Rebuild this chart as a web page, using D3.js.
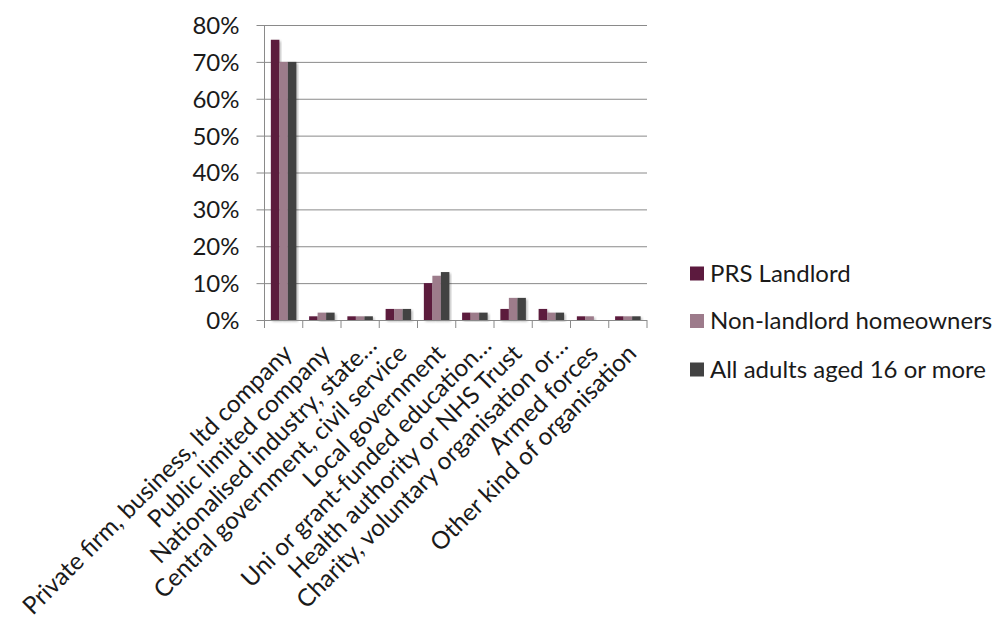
<!DOCTYPE html>
<html>
<head>
<meta charset="utf-8">
<script src="https://cdn.jsdelivr.net/npm/d3@7"></script>
<style>
  html, body { margin: 0; padding: 0; background: #fff; }
  svg { display: block; }
  text { font-family: Lato, "Open Sans", sans-serif; fill: #1a1a1a; }
</style>
</head>
<body>
<svg id="chart" width="999" height="619"></svg>
<script>
// ---- data ----
const categories = [
  "Private firm, business, ltd company",
  "Public limited company",
  "Nationalised industry, state\u2026",
  "Central government, civil service",
  "Local government",
  "Uni or grant-funded education\u2026",
  "Health authority or NHS Trust",
  "Charity, voluntary organisation or\u2026",
  "Armed forces",
  "Other kind of organisation"
];
const seriesNames = ["PRS Landlord", "Non-landlord homeowners", "All adults aged 16 or more"];
const prsLandlord   = [0.76, 0.01, 0.01, 0.03, 0.10, 0.02, 0.03, 0.03, 0.01, 0.01];
const nonLandlord   = [0.70, 0.02, 0.01, 0.03, 0.12, 0.02, 0.06, 0.02, 0.01, 0.01];
const allAdults     = [0.70, 0.02, 0.01, 0.03, 0.13, 0.02, 0.06, 0.02, 0.00, 0.01];
const yTicks = [0, 0.1, 0.2, 0.3, 0.4, 0.5, 0.6, 0.7, 0.8];

// ---- styles / layout ----
const colors = ["#5c1a3e", "#9d7b8b", "#424242"];
const seriesValues = [prsLandlord, nonLandlord, allAdults];
const plot = { left: 264.5, right: 647, top: 25, bottom: 320 };
const fontSize = 24;
const labelFontSize = 24.3;

const svg = d3.select("#chart");
svg.append("rect").attr("width", 999).attr("height", 619).attr("fill", "#fff");

const defs = svg.append("defs");
const f = defs.append("filter").attr("id", "shadow")
  .attr("x", "-30%").attr("y", "-10%").attr("width", "160%").attr("height", "130%");
f.append("feDropShadow").attr("dx", 1.5).attr("dy", 1.5).attr("stdDeviation", 1.2)
  .attr("flood-color", "#000").attr("flood-opacity", 0.28);

const y = d3.scaleLinear().domain([0, 0.8]).range([plot.bottom, plot.top]);
const x0 = d3.scaleBand().domain(categories).range([plot.left, plot.right]).padding(0);
const gapRatio = 1.5; // Excel gap width 150%
const groupW = x0.bandwidth() * 3 / (3 + gapRatio);
const x1 = d3.scaleBand().domain(d3.range(seriesNames.length)).range([0, groupW]).padding(0);

// gridlines + y axis ticks
const yAxis = d3.axisLeft(y).tickValues(yTicks)
  .tickSize(-(plot.right - plot.left))
  .tickFormat(d3.format(".0%"));
const gy = svg.append("g").attr("transform", `translate(${plot.left},0)`).call(yAxis);
gy.select(".domain").remove();
gy.selectAll(".tick line").attr("stroke", "#8a8a8a").attr("stroke-width", 1)
  .attr("x1", -8).attr("x2", plot.right - plot.left);
gy.selectAll(".tick text").attr("x", -25).attr("dy", "0.35em")
  .style("font-size", fontSize + "px").style("font-family", "Lato, sans-serif")
  .attr("fill", "#1a1a1a");

// bars
const groups = svg.append("g").selectAll("g").data(categories).join("g")
  .attr("transform", c => `translate(${x0(c) + (x0.bandwidth() - groupW) / 2},0)`);
groups.selectAll("rect")
  .data((c, i) => seriesValues.map((s, k) => ({ k, v: s[i] })))
  .join("rect")
  .attr("x", d => x1(d.k))
  .attr("width", x1.bandwidth())
  .attr("y", d => y(d.v))
  .attr("height", d => y(0) - y(d.v))
  .attr("fill", d => colors[d.k])
  .attr("filter", "url(#shadow)");

// x axis
const xAxis = d3.axisBottom(x0).tickSize(0).tickFormat("");
const gx = svg.append("g").attr("transform", `translate(0,${plot.bottom})`).call(xAxis);
gx.select(".domain").remove();
svg.append("line").attr("x1", plot.left).attr("x2", plot.right)
  .attr("y1", plot.bottom + 0.5).attr("y2", plot.bottom + 0.5)
  .attr("stroke", "#8a8a8a");
// vertical axis line
svg.append("line").attr("x1", plot.left).attr("x2", plot.left)
  .attr("y1", plot.top).attr("y2", plot.bottom + 8)
  .attr("stroke", "#8a8a8a");
// category boundary ticks
const boundaries = categories.map(c => x0(c)).concat([plot.right]);
svg.append("g").selectAll("line").data(boundaries).join("line")
  .attr("x1", d => d).attr("x2", d => d)
  .attr("y1", plot.bottom).attr("y2", plot.bottom + 8)
  .attr("stroke", "#8a8a8a");

// rotated category labels
svg.append("g").selectAll("text").data(categories).join("text")
  .attr("text-anchor", "end")
  .attr("transform", c => {
    const cx = x0(c) + x0.bandwidth() / 2;
    const extra = c.endsWith("\u2026") ? 8 : 0;
    return `translate(${cx + 10 + extra},${plot.bottom + 35 - extra}) rotate(-45)`;
  })
  .style("font-size", labelFontSize + "px")
  .text(c => c);

// legend
const legend = svg.append("g");
const legendY = [273.5, 321, 369.5];
seriesNames.forEach((name, k) => {
  legend.append("rect").attr("x", 690).attr("y", legendY[k] - 7)
    .attr("width", 14).attr("height", 14).attr("fill", colors[k]);
  legend.append("text").attr("x", 710).attr("y", legendY[k]).attr("dy", "0.35em")
    .style("font-size", fontSize + "px").text(name);
});
</script>
</body>
</html>
